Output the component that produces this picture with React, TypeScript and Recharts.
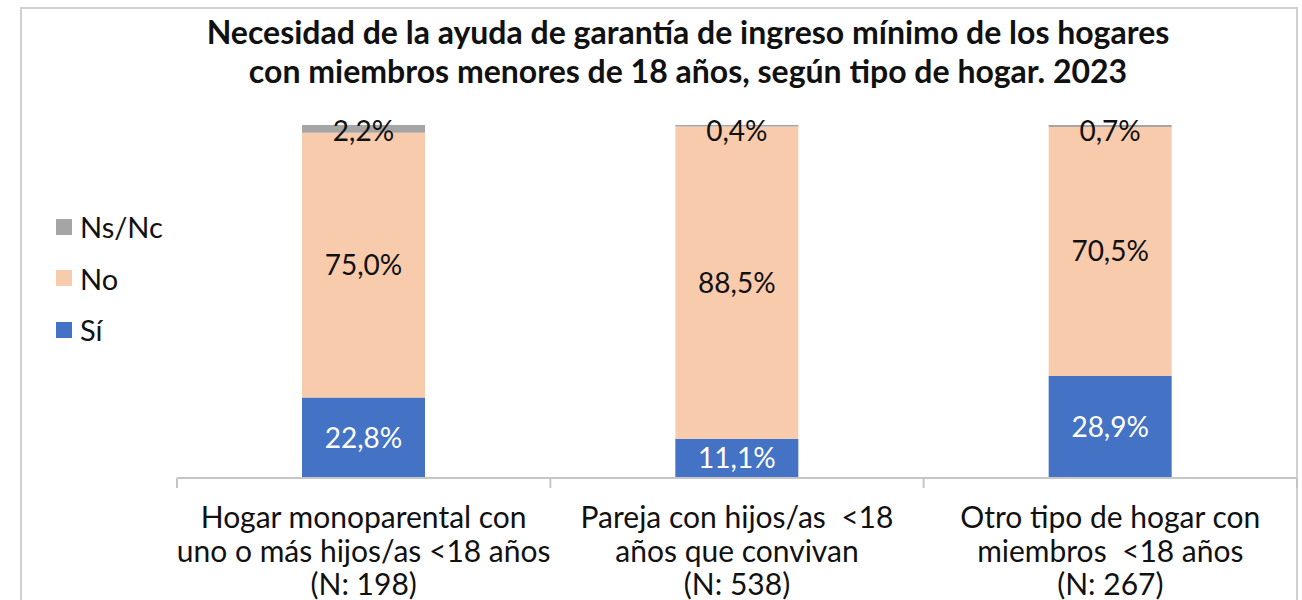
import React from 'react';
import { Bar, BarChart, LabelList, XAxis, YAxis } from 'recharts';

const categories = [
  'Hogar monoparental con\nuno o más hijos/as <18 años\n(N: 198)',
  'Pareja con hijos/as  <18\naños que convivan\n(N: 538)',
  'Otro tipo de hogar con\nmiembros  <18 años\n(N: 267)',
];
const si = [22.8, 11.1, 28.9];
const no = [75.0, 88.5, 70.5];
const nsnc = [2.2, 0.4, 0.7];

const series = [
  { key: 'nsnc', name: 'Ns/Nc', color: '#A5A5A5' },
  { key: 'no', name: 'No', color: '#F8CBAD' },
  { key: 'si', name: 'Sí', color: '#4472C4' },
];

const data = categories.map((cat, i) => ({ cat, si: si[i], no: no[i], nsnc: nsnc[i] }));

const FONT = 'Lato, "Open Sans", sans-serif';
const W = 1302;
const H = 600;
const M = { top: 125, right: 5, left: 177, bottom: 0 };
const BAND = (W - M.left - M.right) / categories.length;

const fmt = (v: any) => Number(v).toFixed(1).replace('.', ',') + '%';

function CatTick(props: any) {
  const { x, y, payload, index } = props;
  const lines = String(payload.value).split('\n');
  return (
    <g>
      <line x1={x - BAND / 2} x2={x - BAND / 2} y1={y - 8} y2={y + 2} stroke="#c6c6c6" strokeWidth={2} />
      {index === categories.length - 1 && (
        <line x1={x + BAND / 2} x2={x + BAND / 2} y1={y - 8} y2={y + 2} stroke="#c6c6c6" strokeWidth={2} />
      )}
      <text
        x={x}
        y={y + 42}
        textAnchor="middle"
        fontSize={30}
        fontFamily={FONT}
        fill="#111"
        style={{ whiteSpace: 'pre' }}
      >
        {lines.map((l, i) => (
          <tspan key={i} x={x} dy={i === 0 ? 0 : 33.5}>
            {l}
          </tspan>
        ))}
      </text>
    </g>
  );
}

function TopLabel(props: any) {
  const { x, y, width, value } = props;
  return (
    <text
      x={x + width / 2}
      y={y + 5}
      textAnchor="middle"
      dominantBaseline="central"
      fontSize={28}
      fontFamily={FONT}
      fill="#111"
    >
      {fmt(value)}
    </text>
  );
}

export default function App() {
  return (
    <div style={{ position: 'relative', width: W, height: H, overflow: 'hidden', background: '#fff' }}>
      <style>{'body{margin:0}'}</style>
      <div
        style={{
          position: 'absolute',
          left: 20,
          top: 7,
          width: 1274,
          height: 640,
          border: '2px solid #d0d0d0',
        }}
      />
      <div
        style={{
          position: 'absolute',
          left: 88,
          width: 1200,
          top: 12,
          textAlign: 'center',
          fontFamily: FONT,
          fontWeight: 700,
          fontSize: 32,
          lineHeight: '39px',
          color: '#111',
        }}
      >
        Necesidad de la ayuda de garantía de ingreso mínimo de los hogares
        <br />
        con miembros menores de 18 años, según tipo de hogar. 2023
      </div>
      <div style={{ position: 'absolute', left: 56, top: 201, fontFamily: FONT, fontSize: 29, color: '#111' }}>
        {series.map((s) => (
          <div key={s.key} style={{ display: 'flex', alignItems: 'center', height: 51.5 }}>
            <span style={{ width: 16, height: 16, background: s.color, marginRight: 8 }} />
            <span>{s.name}</span>
          </div>
        ))}
      </div>
      <div style={{ position: 'absolute', left: 0, top: 0 }}>
        <BarChart width={W} height={H} data={data} margin={M} barSize={123}>
          <XAxis
            dataKey="cat"
            height={122}
            interval={0}
            axisLine={{ stroke: '#c6c6c6', strokeWidth: 2 }}
            tickLine={false}
            tick={<CatTick />}
          />
          <YAxis hide domain={[0, 100]} allowDataOverflow />
          <Bar dataKey="si" stackId="a" fill="#4472C4" isAnimationActive={false}>
            <LabelList dataKey="si" position="center" formatter={fmt} fill="#fff" fontSize={28} fontFamily={FONT} />
          </Bar>
          <Bar dataKey="no" stackId="a" fill="#F8CBAD" isAnimationActive={false}>
            <LabelList dataKey="no" position="center" formatter={fmt} fill="#111" fontSize={28} fontFamily={FONT} />
          </Bar>
          <Bar dataKey="nsnc" stackId="a" fill="#A5A5A5" isAnimationActive={false}>
            <LabelList dataKey="nsnc" content={<TopLabel />} />
          </Bar>
        </BarChart>
      </div>
    </div>
  );
}
